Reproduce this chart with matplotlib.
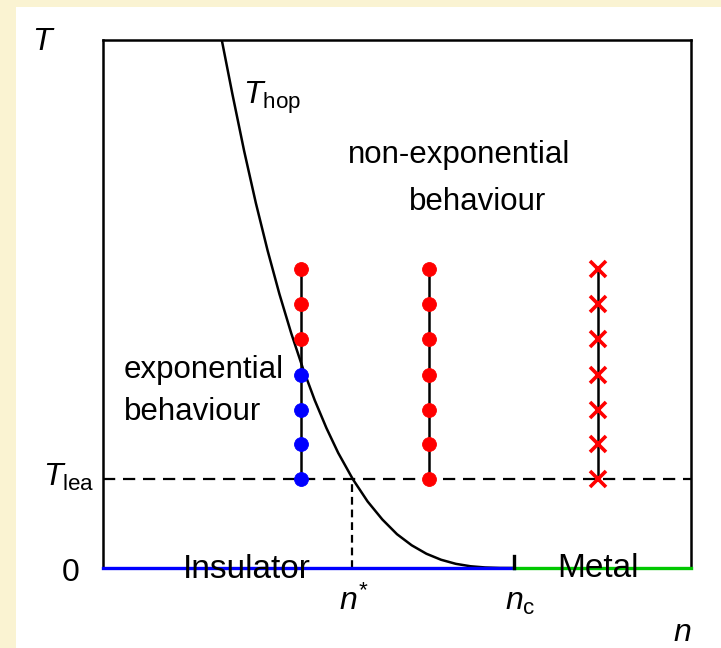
import numpy as np
import matplotlib
matplotlib.use('Agg')
import matplotlib.pyplot as plt
from matplotlib.patches import Rectangle

plt.rcParams['font.family'] = 'Liberation Sans'
plt.rcParams['mathtext.fontset'] = 'custom'
plt.rcParams['mathtext.rm'] = 'Liberation Sans'
plt.rcParams['mathtext.it'] = 'Liberation Sans:italic'

# hopping temperature curve (n, T in axis units 0..1)
hop_n = [0.202, 0.220, 0.240, 0.260, 0.280, 0.300, 0.320, 0.340, 0.360, 0.380, 0.400,
         0.425, 0.450, 0.475, 0.500, 0.525, 0.550, 0.575, 0.600, 0.625, 0.650, 0.675, 0.699]
hop_T = [1.000, 0.898, 0.790, 0.691, 0.601, 0.519, 0.445, 0.378, 0.318, 0.265, 0.218,
         0.168, 0.126, 0.092, 0.064, 0.043, 0.027, 0.0156, 0.0079, 0.0033, 0.001, 0.0001, 0.0]

# measurement columns
col_n = [0.337, 0.554, 0.842]
col_T = [0.168, 0.235, 0.299, 0.366, 0.433, 0.500, 0.566]
n_exp_points = 4          # lowest points of first column are "exponential" (blue)

T_lea = 0.168
n_star = 0.4235
n_c = 0.699

fig = plt.figure(figsize=(7.21, 6.48), dpi=100)
fig.patch.set_facecolor('#FAF3D2')
fig.add_artist(Rectangle((16/721, 0), 1, 1 - 7/648, transform=fig.transFigure,
                         facecolor='white', edgecolor='none', zorder=-5))

ax = fig.add_axes([103/721, 1 - 568/648, 588/721, 528/648])
ax.set_xlim(0, 1)
ax.set_ylim(0, 1)
ax.set_facecolor('white')
ax.set_xticks([])
ax.set_yticks([])
for s in ['left', 'top', 'right']:
    ax.spines[s].set_linewidth(1.8)
ax.spines['bottom'].set_visible(False)

# T_hop curve
ax.plot(hop_n, hop_T, color='black', lw=1.8, zorder=3, solid_joinstyle='round')

# dashed lines
ax.axhline(T_lea, color='black', lw=1.6, dashes=(5.5, 3.5), zorder=2)
ax.plot([n_star, n_star], [0, T_lea], color='black', lw=1.6, dashes=(3.5, 2.2), zorder=2)

# insulator / metal baseline
ax.plot([0, n_c], [0, 0], color='#0000FF', lw=2.4, clip_on=False, zorder=4)
ax.plot([n_c, 1], [0, 0], color='#00C800', lw=2.4, clip_on=False, zorder=4)
ax.plot([n_c, n_c], [0, 0.023], color='black', lw=2.4, clip_on=False, zorder=5)

# columns of points
for x in col_n:
    ax.plot([x, x], [col_T[0], col_T[-1]], color='black', lw=1.8, zorder=5)
ax.plot([col_n[0]] * n_exp_points, col_T[:n_exp_points], 'o', color='#0000FF', ms=10, mew=0.6, zorder=6)
ax.plot([col_n[0]] * (len(col_T) - n_exp_points), col_T[n_exp_points:], 'o', color='#FF0000', ms=10, mew=0.6, zorder=6)
ax.plot([col_n[1]] * len(col_T), col_T, 'o', color='#FF0000', ms=10, mew=0.6, zorder=6)
ax.plot([col_n[2]] * len(col_T), col_T, 'x', color='#FF0000', ms=11.5, mew=2.6, zorder=6)

# text
fs = 22.5
ax.text(0.238, 0.924, r'$T_{\rm hop}$', fontsize=23, ha='left', va='top')
ax.text(0.4167, 0.767, 'non-exponential', fontsize=fs, ha='left', va='baseline')
ax.text(0.5204, 0.678, 'behaviour', fontsize=fs, ha='left', va='baseline')
ax.text(0.0357, 0.360, 'exponential', fontsize=fs, ha='left', va='baseline')
ax.text(0.0357, 0.280, 'behaviour', fontsize=fs, ha='left', va='baseline')
ax.text(0.245, -0.019, 'Insulator', fontsize=24, ha='center', va='baseline', zorder=7)
ax.text(0.841, -0.017, 'Metal', fontsize=24, ha='center', va='baseline', zorder=7)

ax.text(-0.1003, 0.996, r'$T$', fontsize=23, ha='center', va='center', clip_on=False)
ax.text(-0.0136, 0.172, r'$T_{\rm lea}$', fontsize=23, ha='right', va='center', clip_on=False)
ax.text(-0.0544, -0.0095, '0', fontsize=23, ha='center', va='center', clip_on=False)
ax.text(0.401, -0.0795, r'$n^{*}$', fontsize=23, ha='left', va='baseline', clip_on=False)
ax.text(0.6837, -0.0795, r'$n_{\rm c}$', fontsize=23, ha='left', va='baseline', clip_on=False)
ax.text(0.9847, -0.1231, r'$n$', fontsize=23, ha='center', va='center', clip_on=False)

fig.savefig('out.png', dpi=100, facecolor=fig.get_facecolor())
